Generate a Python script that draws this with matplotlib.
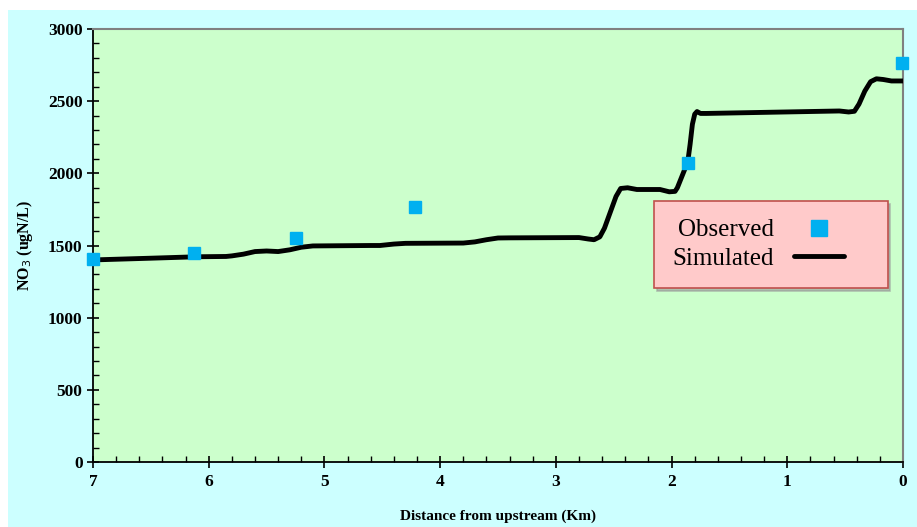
import matplotlib.pyplot as plt
import matplotlib.ticker as mticker
from matplotlib.patches import Rectangle

# observed stations (distance from upstream in km, NO3 in ugN/L)
obs_km = [7.0, 6.13, 5.25, 4.22, 1.86, 0.01]
obs_no3 = [1407, 1448, 1552, 1767, 2072, 2765]

# simulated profile
sim_km = [7.0, 6.5, 6.1, 5.85, 5.8, 5.7, 5.6, 5.5, 5.4, 5.3, 5.2, 5.1, 4.6,
          4.52, 4.4, 4.3, 3.8, 3.7, 3.6, 3.5, 3.4, 2.8, 2.72, 2.67, 2.62,
          2.58, 2.53, 2.48, 2.44, 2.38, 2.3, 2.1, 2.02, 1.97, 1.95, 1.92,
          1.89, 1.86, 1.84, 1.82, 1.80, 1.78, 1.75, 1.7, 0.55, 0.47, 0.42,
          0.38, 0.33, 0.28, 0.23, 0.17, 0.1, 0.0]
sim_no3 = [1400, 1412, 1422, 1424, 1428, 1440, 1458, 1462, 1458, 1470, 1488,
           1497, 1500, 1500, 1510, 1515, 1517, 1525, 1540, 1552, 1553, 1555,
           1545, 1540, 1560, 1620, 1730, 1840, 1895, 1900, 1888, 1888, 1872,
           1875, 1900, 1960, 2020, 2080, 2200, 2340, 2410, 2428, 2415, 2415,
           2432, 2425, 2430, 2480, 2570, 2635, 2655, 2650, 2640, 2640]

fig = plt.figure(figsize=(9.17, 5.27), dpi=100, facecolor='white')
fig.patches.append(Rectangle((8 / 917, 0), 1, 1 - 10 / 527, transform=fig.transFigure,
                             facecolor='#CCFFFF', edgecolor='none', zorder=-1))

ax = fig.add_axes([93 / 917, 65 / 527, 810 / 917, 433 / 527])
ax.set_facecolor('#CCFFCC')

ax.plot(sim_km, sim_no3, color='black', linewidth=3.5, solid_capstyle='round',
        label='Simulated', zorder=3)
ax.plot(obs_km, obs_no3, linestyle='none', marker='s', markersize=8.5,
        color='#00B0F0', markeredgecolor='#00B0F0', label='Observed', zorder=4,
        clip_on=False)

ax.set_xlim(7, 0)
ax.set_ylim(0, 3000)
ax.xaxis.set_major_locator(mticker.MultipleLocator(1))
ax.xaxis.set_minor_locator(mticker.MultipleLocator(0.2))
ax.yaxis.set_major_locator(mticker.MultipleLocator(500))
ax.yaxis.set_minor_locator(mticker.MultipleLocator(100))
ax.tick_params(which='major', direction='inout', length=8, width=1.2, color='black')
ax.tick_params(which='minor', direction='in', length=4, width=1.0, color='black')
ax.tick_params(axis='x', pad=5)

for lbl in ax.get_xticklabels() + ax.get_yticklabels():
    lbl.set_fontfamily('Liberation Serif')
    lbl.set_fontweight('bold')
    lbl.set_fontsize(12.5)

for side in ['left', 'bottom']:
    ax.spines[side].set_color('black')
    ax.spines[side].set_linewidth(1.3)
for side in ['top', 'right']:
    ax.spines[side].set_color('#808080')
    ax.spines[side].set_linewidth(1.5)

ax.set_xlabel('Distance from upstream (Km)', fontfamily='Liberation Serif',
              fontweight='bold', fontsize=11, labelpad=14)
ax.set_ylabel('NO$_3$ (ugN/L)', fontfamily='Liberation Serif',
              fontweight='bold', fontsize=11.5, labelpad=9)

handles, labels = ax.get_legend_handles_labels()
leg = ax.legend(handles[::-1], labels[::-1], loc='upper left',
                bbox_to_anchor=(0.693, 0.393, 0.288, 0.21), mode='expand',
                markerfirst=False, fancybox=False,
                shadow={'color': '#999999', 'alpha': 0.6},
                facecolor='#FFCACA', edgecolor='#C0504D', framealpha=1,
                prop={'family': 'Liberation Serif', 'size': 18},
                borderpad=0.72, handlelength=2.0, labelspacing=0.25,
                markerscale=1.4, borderaxespad=0)
leg.get_frame().set_linewidth(1.2)

fig.savefig('out.png', dpi=100, facecolor=fig.get_facecolor())
